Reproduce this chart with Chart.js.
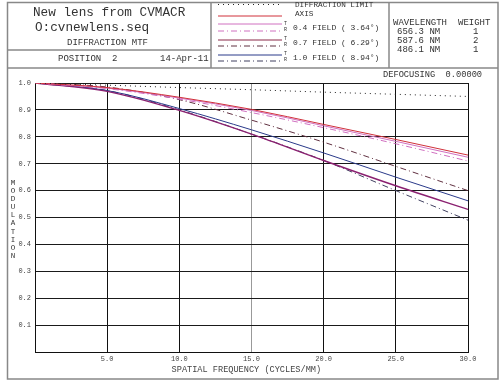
<!DOCTYPE html>
<html><head><meta charset="utf-8">
<script src="https://cdn.jsdelivr.net/npm/chart.js@4"></script>
<style>
body{margin:0;background:#fff;}
#wrap{position:relative;width:500px;height:386px;overflow:hidden;font-family:'Liberation Mono',monospace;color:#333;background:#fff;}
#c{position:absolute;left:0;top:0;}
#ov{position:absolute;left:0;top:0;pointer-events:none;}
.t{position:absolute;white-space:pre;line-height:1;}
</style></head><body>
<div id="wrap">
<canvas id="c" width="500" height="386"></canvas>
<svg id="ov" width="500" height="386" xmlns="http://www.w3.org/2000/svg">
  <rect x="7.5" y="2.5" width="490.5" height="376.5" fill="none" stroke="#888" stroke-width="1.5"/>
  <line x1="7" y1="68" x2="498" y2="68" stroke="#888" stroke-width="1.5"/>
  <line x1="7" y1="50" x2="211" y2="50" stroke="#888" stroke-width="1.5"/>
  <line x1="211" y1="2" x2="211" y2="68" stroke="#888" stroke-width="1.5"/>
  <line x1="389" y1="2" x2="389" y2="68" stroke="#888" stroke-width="1.5"/>
  <line x1="218" y1="4.5" x2="282" y2="4.5" stroke="#222" stroke-dasharray="1,4"/>
  <line x1="218" y1="16" x2="282" y2="16" stroke="#d0303a"/>
  <line x1="218" y1="24" x2="282" y2="24" stroke="#d070c0"/>
  <line x1="218" y1="31" x2="282" y2="31" stroke="#d070c0" stroke-dasharray="6,3,1,3"/>
  <line x1="218" y1="40" x2="282" y2="40" stroke="#8a2848"/>
  <line x1="218" y1="46" x2="282" y2="46" stroke="#603040" stroke-dasharray="6,3,1,3"/>
  <line x1="218" y1="55" x2="282" y2="55" stroke="#2a3a8a"/>
  <line x1="218" y1="61" x2="282" y2="61" stroke="#404060" stroke-dasharray="6,3,1,3"/>
</svg>
<div class="t" style="left:33px;top:6.5px;font-size:12.7px;">New lens from CVMACR</div>
<div class="t" style="left:35px;top:21.5px;font-size:12.7px;">O:cvnewlens.seq</div>
<div class="t" style="left:67px;top:38.5px;font-size:9px;">DIFFRACTION MTF</div>
<div class="t" style="left:58px;top:54.5px;font-size:9px;">POSITION  2</div>
<div class="t" style="left:160px;top:54.5px;font-size:9px;">14-Apr-11</div>
<div class="t" style="left:295px;top:2px;font-size:7.7px;">DIFFRACTION LIMIT</div>
<div class="t" style="left:295px;top:11px;font-size:7.7px;">AXIS</div>
<div class="t" style="left:284px;top:22px;font-size:5px;">T</div>
<div class="t" style="left:284px;top:28px;font-size:5px;">R</div>
<div class="t" style="left:293px;top:24px;font-size:8px;">0.4 FIELD ( 3.64°)</div>
<div class="t" style="left:284px;top:37px;font-size:5px;">T</div>
<div class="t" style="left:284px;top:43px;font-size:5px;">R</div>
<div class="t" style="left:293px;top:39px;font-size:8px;">0.7 FIELD ( 6.29°)</div>
<div class="t" style="left:284px;top:52px;font-size:5px;">T</div>
<div class="t" style="left:284px;top:58px;font-size:5px;">R</div>
<div class="t" style="left:293px;top:54px;font-size:8px;">1.0 FIELD ( 8.94°)</div>
<div class="t" style="left:393px;top:18.5px;font-size:9px;">WAVELENGTH</div>
<div class="t" style="left:458px;top:18.5px;font-size:9px;">WEIGHT</div>
<div class="t" style="left:397px;top:27.5px;font-size:9px;">656.3 NM</div>
<div class="t" style="left:473px;top:27.5px;font-size:9px;">1</div>
<div class="t" style="left:397px;top:36.5px;font-size:9px;">587.6 NM</div>
<div class="t" style="left:473px;top:36.5px;font-size:9px;">2</div>
<div class="t" style="left:397px;top:45.5px;font-size:9px;">486.1 NM</div>
<div class="t" style="left:473px;top:45.5px;font-size:9px;">1</div>
<div class="t" style="left:383px;top:70.5px;font-size:8.7px;">DEFOCUSING  0.00000</div>
<div class="t" style="left:9px;top:179px;font-size:7.5px;line-height:8.1px;width:8px;text-align:center;">M<br>O<br>D<br>U<br>L<br>A<br>T<br>I<br>O<br>N</div>
</div>
<script>
const freq = [0, 5, 10, 15, 20, 25, 30];
const diffLimit = [1, 0.992, 0.983, 0.975, 0.966, 0.958, 0.95];
const axisT = [1, 0.983, 0.947, 0.902, 0.846, 0.79, 0.732];
const f04T = [1, 0.981, 0.944, 0.898, 0.841, 0.783, 0.724];
const f04R = [1, 0.979, 0.94, 0.89, 0.834, 0.774, 0.71];
const f07T = [1, 0.969, 0.898, 0.81, 0.712, 0.618, 0.53];
const f07R = [1, 0.985, 0.938, 0.862, 0.78, 0.69, 0.60];
const f10T = [1, 0.972, 0.905, 0.826, 0.74, 0.65, 0.562];
const f10R = [1, 0.972, 0.9, 0.81, 0.712, 0.6, 0.49];
const xTicks = [5, 10, 15, 20, 25, 30];

const pts = arr => arr.map((v, i) => ({x: freq[i], y: v}));
const DD = [6, 3, 1, 3];
const mk = (label, arr, color, dash, w) => ({label, data: pts(arr), borderColor: color, borderDash: dash || [], borderWidth: w || 1, fill: false});

new Chart(document.getElementById('c'), {
  type: 'line',
  data: {datasets: [
    mk('DIFFRACTION LIMIT', diffLimit, '#222', [1, 4]),
    mk('AXIS', axisT, '#d0303a'),
    mk('0.4 FIELD T', f04T, '#d070c0'),
    mk('0.4 FIELD R', f04R, '#d070c0', DD),
    mk('0.7 FIELD T', f07T, '#8a2070', null, 1.4),
    mk('0.7 FIELD R', f07R, '#603040', DD),
    mk('1.0 FIELD T', f10T, '#2a3a8a'),
    mk('1.0 FIELD R', f10R, '#404060', DD)
  ]},
  options: {
    responsive: false, animation: false, events: [],
    layout: {padding: {left: 0, right: 32, top: 83, bottom: 0}},
    plugins: {legend: {display: false}, tooltip: {enabled: false}},
    elements: {point: {radius: 0}, line: {tension: 0.35, cubicInterpolationMode: 'monotone'}},
    scales: {
      x: {
        type: 'linear', min: 0, max: 30,
        afterFit(s) { s.height = 34; },
        afterBuildTicks(s) { s.ticks = [0].concat(xTicks).map(v => ({value: v})); },
        ticks: {padding: 3, color: '#444', maxRotation: 0, autoSkip: false,
          font: {family: 'Liberation Mono', size: 7},
          callback: v => v === 0 ? '' : v.toFixed(1)},
        grid: {drawTicks: false, lineWidth: 1, color: c => (c.tick && c.tick.value === 15) ? '#999' : '#111'},
        border: {display: true, color: '#111'},
        title: {display: true, text: 'SPATIAL FREQUENCY (CYCLES/MM)  ', color: '#444',
          font: {family: 'Liberation Mono', size: 8.6}, padding: {top: 0, bottom: 11}}
      },
      y: {
        min: 0, max: 1,
        afterFit(s) { s.width = 35; },
        ticks: {stepSize: 0.1, padding: 4, color: '#444',
          font: {family: 'Liberation Mono', size: 7},
          callback: v => v < 0.05 ? '' : Number(v).toFixed(1)},
        grid: {drawTicks: false, lineWidth: 1, color: '#1a1a1a'},
        border: {display: true, color: '#111'}
      }
    }
  }
});
</script>
</body></html>
